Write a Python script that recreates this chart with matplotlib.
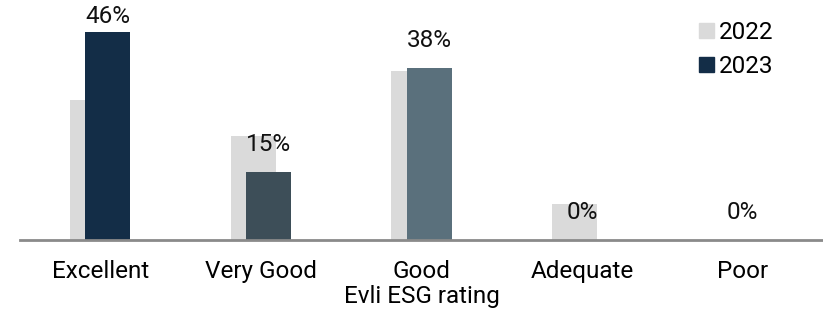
import matplotlib
matplotlib.use("Agg")
import matplotlib.pyplot as plt
import numpy as np
from matplotlib.patches import Patch

# Share of holdings per Evli ESG rating
categories = ["Excellent", "Very Good", "Good", "Adequate", "Poor"]
share_2022 = [31, 23, 37.5, 8, 0]
share_2023 = [46, 15, 38, 0, 0]
labels_2023 = ["46%", "15%", "38%", "0%", "0%"]

grey = "#dadada"
colors_2023 = ["#132d47", "#3d4e58", "#5a707c", "#5a707c", "#5a707c"]

plt.rcParams["font.family"] = ["Roboto", "DejaVu Sans"]
fs = 17.5

fig = plt.figure(figsize=(8.23, 3.16), dpi=100)
ax = fig.add_axes([0.0243, 0.2405, 0.9757, 0.715])

x = np.arange(len(categories))
w = 0.28
off = 0.047
ax.bar(x - off, share_2022, w, color=grey, zorder=1)
ax.bar(x + off, share_2023, w, color=colors_2023, zorder=2)

for xi, v, lab in zip(x, share_2023, labels_2023):
    y = min(v + 3.6, 46.9)
    xt = xi + off if v > 0 else xi
    ax.text(xt, y, lab, ha="center", va="bottom", fontsize=fs, color="#111111")

ax.set_xlim(-0.5, 4.5)
ax.set_ylim(0, 50)
ax.set_xticks(x)
ax.set_xticklabels(categories, fontsize=fs)
ax.tick_params(axis="x", length=0, pad=14.5)
ax.set_yticks([])
ax.set_xlabel("Evli ESG rating", fontsize=fs, labelpad=1.5)
for s in ["top", "right", "left"]:
    ax.spines[s].set_visible(False)
ax.spines["bottom"].set_color("#8a8a8a")
ax.spines["bottom"].set_linewidth(2)

handles = [Patch(color=grey), Patch(color=colors_2023[0])]
ax.legend(handles, ["2022", "2023"], loc="upper right", bbox_to_anchor=(0.965, 1.065),
          frameon=False, fontsize=fs, handlelength=0.6, handleheight=0.6,
          handletextpad=0.2, labelspacing=0.45)

fig.savefig("out.png", dpi=100)
